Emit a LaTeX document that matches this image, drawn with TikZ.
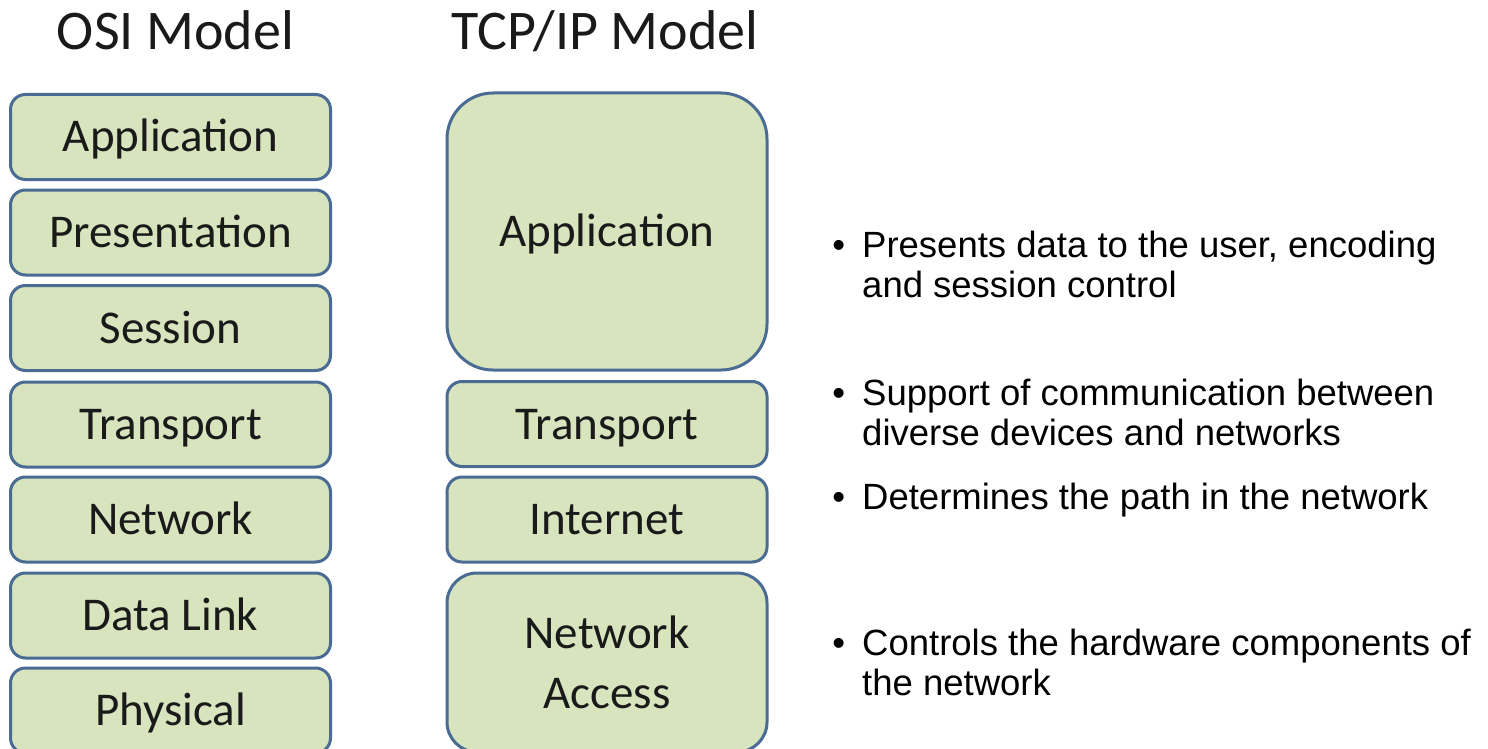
\documentclass[tikz,border=0pt]{standalone}
\usepackage{fontspec}
\setmainfont{Carlito}
\newfontfamily\bulletfont{Liberation Sans}
\definecolor{boxfill}{HTML}{D7E4BD}
\definecolor{boxline}{HTML}{4A6B93}
\definecolor{txt}{HTML}{1A1A1A}
\begin{document}
\begin{tikzpicture}[x=1pt,y=-1pt,
  layer/.style={draw=boxline, fill=boxfill, line width=3pt, rounded corners=15pt,
    minimum width=320pt, minimum height=85pt, inner sep=0pt, text=txt,
    font=\fontsize{47}{60}\selectfont},
  capc/.style={text height=30pt, text depth=0pt},
  title/.style={anchor=base, text=txt, font=\fontsize{56}{60}\selectfont, inner sep=0pt},
  note/.style={anchor=base west, align=left, inner sep=0pt, text=black,
    font=\bulletfont\fontsize{36.5}{40.8}\selectfont}]
\useasboundingbox (0,0) rectangle (1488,749);
\clip (0,0) rectangle (1488,749);
\fill[white] (0,0) rectangle (1488,749);
% titles
\node[title] (osiT) at (175.5,50) {OSI Model};
\node[title] (tcpT) at (605,50) {TCP/IP Model};
% OSI layers
\node[layer,capc] (o1) at (170.5,137) {Application};
\node[layer,capc] (o2) at (170.5,232.5) {Presentation};
\node[layer,capc] (o3) at (170.5,328) {Session};
\node[layer,capc] (o4) at (170.5,424.5) {Transport};
\node[layer,capc] (o5) at (170.5,519.5) {Network};
\node[layer,capc] (o6) at (170.5,615.5) {Data Link};
\node[layer,capc] (o7) at (170.5,710.5) {Physical};
% TCP/IP layers
\node[layer,capc,minimum height=277pt,rounded corners=46pt] (t1) at (607,231.5) {Application};
\node[layer,capc] (t2) at (607,424) {Transport};
\node[layer,capc] (t3) at (607,519.5) {Internet};
\node[layer,minimum height=179pt,rounded corners=30pt,align=center] (t4) at (607,662.5) {Network\\Access};
% descriptions (base = baseline of the last line)
\node[note] (n1) at (862,297.8) {\llap{\textbullet\hspace{17pt}}Presents data to the user, encoding\\and session control};
\node[note] (n2) at (862,445.8) {\llap{\textbullet\hspace{17pt}}Support of communication between\\diverse devices and networks};
\node[note] (n3) at (862,509) {\llap{\textbullet\hspace{17pt}}Determines the path in the network};
\node[note] (n4) at (862,695.8) {\llap{\textbullet\hspace{17pt}}Controls the hardware components of\\the network};
\end{tikzpicture}
\end{document}
